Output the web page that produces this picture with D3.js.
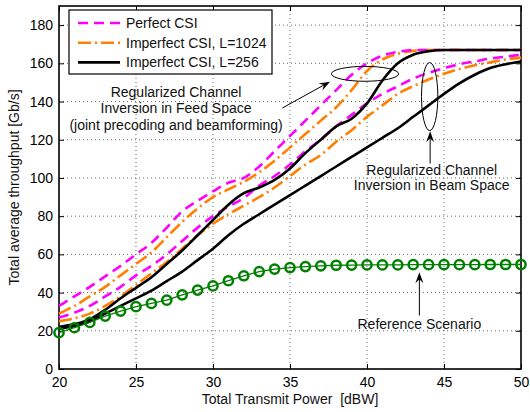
<!DOCTYPE html>
<html>
<head>
<meta charset="utf-8">
<script src="https://cdn.jsdelivr.net/npm/d3@7"></script>
<style>
  body { margin: 0; background: #fff; }
  svg { font-family: "Liberation Sans", Arial, sans-serif; }
</style>
</head>
<body>
<svg id="chart" width="530" height="412"></svg>
<script>
// power axis (dBW), one point per dB
var power = d3.range(20, 51);

// Regularized channel inversion in feed space
var feedPerfect = [33, 38, 43, 48.5, 54, 60, 66, 74, 82.5, 88, 93, 97.5, 100, 106, 114, 122, 130, 138, 146, 154, 160, 164, 166, 167, 167, 167, 167, 167, 167, 167, 167];
var feedL1024   = [29, 33, 38, 43, 49, 55, 61, 69, 77, 84, 90, 94, 98, 103, 109, 116, 123, 130, 137, 146, 156, 162, 165, 166.5, 167, 167, 167, 167, 167, 167, 167];
var feedL256    = [22, 23.5, 26, 31, 37, 42.5, 48, 55, 62, 70, 78, 86, 92, 95, 99, 105, 113, 120, 127, 131, 139, 151, 160, 164.5, 166.3, 167, 167, 167, 167, 167, 167];

// Regularized channel inversion in beam space
var beamPerfect = [27, 29.5, 33, 38, 43, 49, 54, 60, 67, 74, 80, 85, 89.5, 96, 101, 107, 114, 120, 127, 133, 139, 144, 148, 152, 155, 157.5, 159.5, 161, 162.5, 163.5, 164.5];
var beamL1024   = [25, 26.5, 29, 33, 38, 44, 50, 56, 63, 70, 76, 81, 85.5, 90, 95, 101, 107, 112, 119, 125, 132, 138, 144, 148, 151.5, 154.5, 157, 159, 160.5, 162, 163];
var beamL256    = [21, 22.5, 25, 29, 33, 37, 41, 46, 51, 57, 63, 70, 76, 81, 86, 91, 96, 101, 106, 111, 116, 121, 126, 132, 138, 144, 149.5, 154, 157.5, 159.5, 161];

// reference scenario
var reference = [19, 21.6, 24.4, 27.7, 30.3, 32.6, 34.3, 36, 38.8, 41.3, 43.5, 46.2, 48.8, 51, 52.3, 53.1, 53.6, 54, 54.3, 54.4, 54.5, 54.5, 54.5, 54.6, 54.6, 54.6, 54.6, 54.6, 54.7, 54.7, 54.7];

var xTicks = [20, 25, 30, 35, 40, 45, 50];
var yTicks = [0, 20, 40, 60, 80, 100, 120, 140, 160, 180];

var legendNames = ["Perfect CSI", "Imperfect CSI, L=1024", "Imperfect CSI, L=256"];

var styles = [
  {color: "#ff00ff", dash: "10,6"},
  {color: "#ff8000", dash: "13,4,2,4"},
  {color: "#000000", dash: null}
];

var svg = d3.select("#chart");
var plotL = 59, plotR = 521, plotT = 6, plotB = 369;

var x = d3.scaleLinear().domain([20, 50]).range([plotL, plotR]);
var y = d3.scaleLinear().domain([0, 190]).range([plotB, plotT]);

// grid
var grid = svg.append("g");
grid.selectAll(".gx").data(xTicks.slice(1, -1)).enter().append("line")
  .attr("x1", function(d) { return x(d); }).attr("x2", function(d) { return x(d); })
  .attr("y1", plotT).attr("y2", plotB)
  .attr("stroke", "#444").attr("stroke-width", 0.8).attr("stroke-dasharray", "1,3");
grid.selectAll(".gy").data(yTicks.slice(1)).enter().append("line")
  .attr("x1", plotL).attr("x2", plotR)
  .attr("y1", function(d) { return y(d); }).attr("y2", function(d) { return y(d); })
  .attr("stroke", "#444").attr("stroke-width", 0.8).attr("stroke-dasharray", "1,3");

// axes, ticks pointing inwards like matlab
svg.append("g").attr("transform", "translate(0," + plotB + ")")
  .call(d3.axisBottom(x).tickValues(xTicks).tickSize(-5).tickPadding(8));
svg.append("g").attr("transform", "translate(" + plotL + ",0)")
  .call(d3.axisLeft(y).tickValues(yTicks).tickSize(-5).tickPadding(6));
svg.append("g").attr("transform", "translate(0," + plotT + ")")
  .call(d3.axisTop(x).tickValues(xTicks).tickSize(-5).tickFormat(""));
svg.append("g").attr("transform", "translate(" + plotR + ",0)")
  .call(d3.axisRight(y).tickValues(yTicks).tickSize(-5).tickFormat(""));
svg.selectAll(".domain").remove();
svg.selectAll(".tick text").attr("font-size", 14).attr("fill", "#000")
  .attr("font-family", "Liberation Sans, Arial, sans-serif");
svg.selectAll(".tick line").attr("stroke", "#000");

svg.append("rect").attr("x", plotL).attr("y", plotT)
  .attr("width", plotR - plotL).attr("height", plotB - plotT)
  .attr("fill", "none").attr("stroke", "#000").attr("stroke-width", 1.6);

// curves
var line = d3.line()
  .x(function(d, i) { return x(power[i]); })
  .y(function(d) { return y(d); })
  .curve(d3.curveMonotoneX);

var series = [
  [beamL1024, 1], [beamPerfect, 0], [beamL256, 2],
  [feedL1024, 1], [feedPerfect, 0], [feedL256, 2]
];
series.forEach(function(s) {
  var st = styles[s[1]];
  svg.append("path").datum(s[0])
    .attr("d", line)
    .attr("fill", "none")
    .attr("stroke", st.color)
    .attr("stroke-width", 2.6)
    .attr("stroke-dasharray", st.dash);
});

// reference scenario
svg.append("path").datum(reference)
  .attr("d", d3.line().x(function(d, i) { return x(power[i]); }).y(function(d) { return y(d); }))
  .attr("fill", "none").attr("stroke", "#008000").attr("stroke-width", 1.3);
svg.selectAll(".refpt").data(reference).enter().append("circle")
  .attr("cx", function(d, i) { return x(power[i]); })
  .attr("cy", function(d) { return y(d); })
  .attr("r", 4.6)
  .attr("fill", "none").attr("stroke", "#008000").attr("stroke-width", 2.5);

// annotations
function arrow(x1, y1, x2, y2) {
  var ax = x(x1), ay = y(y1), bx = x(x2), by = y(y2);
  var ang = Math.atan2(by - ay, bx - ax);
  var len = 11, wid = 4;
  svg.append("line").attr("x1", ax).attr("y1", ay)
    .attr("x2", bx - Math.cos(ang) * 6).attr("y2", by - Math.sin(ang) * 6)
    .attr("stroke", "#000").attr("stroke-width", 1);
  var p1 = [bx - len * Math.cos(ang) + wid * Math.sin(ang), by - len * Math.sin(ang) - wid * Math.cos(ang)];
  var p2 = [bx - len * Math.cos(ang) - wid * Math.sin(ang), by - len * Math.sin(ang) + wid * Math.cos(ang)];
  var pm = [bx - 7 * Math.cos(ang), by - 7 * Math.sin(ang)];
  svg.append("path")
    .attr("d", "M" + bx + "," + by + "L" + p1 + "L" + pm + "L" + p2 + "Z")
    .attr("fill", "#000");
}

function ellipse(cx, cy, rx, ry) {
  svg.append("ellipse")
    .attr("cx", x(cx)).attr("cy", y(cy))
    .attr("rx", x(20 + rx) - x(20)).attr("ry", y(0) - y(ry))
    .attr("fill", "none").attr("stroke", "#000").attr("stroke-width", 1);
}

function label(lines, cx, cy, step) {
  var t = svg.append("text").attr("text-anchor", "middle").attr("font-size", 14).attr("fill", "#111");
  lines.forEach(function(s, i) {
    t.append("tspan").attr("x", x(cx)).attr("y", y(cy) + 5 + i * step).text(s);
  });
}

ellipse(39.87, 154.5, 2.18, 3.9);
ellipse(44.07, 142.6, 0.53, 17.8);

arrow(34.5, 136.6, 37.6, 150.4);
arrow(44.1, 107.5, 44.1, 124.4);
arrow(43.4, 28, 43.4, 50.6);

label(["Regularized Channel", "Inversion in Feed Space", "(joint precoding and beamforming)"], 27.6, 145, 16.5);
label(["Regularized Channel", "Inversion in Beam Space"], 44.2, 104.2, 15.5);
label(["Reference Scenario"], 43.4, 23.6, 0);

// axis titles
svg.append("text").attr("x", (plotL + plotR) / 2).attr("y", 404)
  .attr("text-anchor", "middle").attr("font-size", 14).attr("fill", "#111")
  .style("white-space", "pre")
  .text("Total Transmit Power  [dBW]");
svg.append("text").attr("transform", "translate(19," + ((plotT + plotB) / 2) + ") rotate(-90)")
  .attr("text-anchor", "middle").attr("font-size", 14).attr("fill", "#111")
  .text("Total average throughput [Gb/s]");

// legend
var lg = svg.append("g");
lg.append("rect").attr("x", 69).attr("y", 10).attr("width", 203).attr("height", 64)
  .attr("fill", "#fff").attr("stroke", "#000").attr("stroke-width", 1.2);
legendNames.forEach(function(name, i) {
  var ly = 23 + i * 19.7;
  lg.append("line").attr("x1", 78).attr("x2", 120).attr("y1", ly).attr("y2", ly)
    .attr("stroke", styles[i].color).attr("stroke-width", 2.6)
    .attr("stroke-dasharray", styles[i].dash);
  lg.append("text").attr("x", 126).attr("y", ly + 5).attr("font-size", 14).attr("fill", "#111").text(name);
});
</script>
</body>
</html>
